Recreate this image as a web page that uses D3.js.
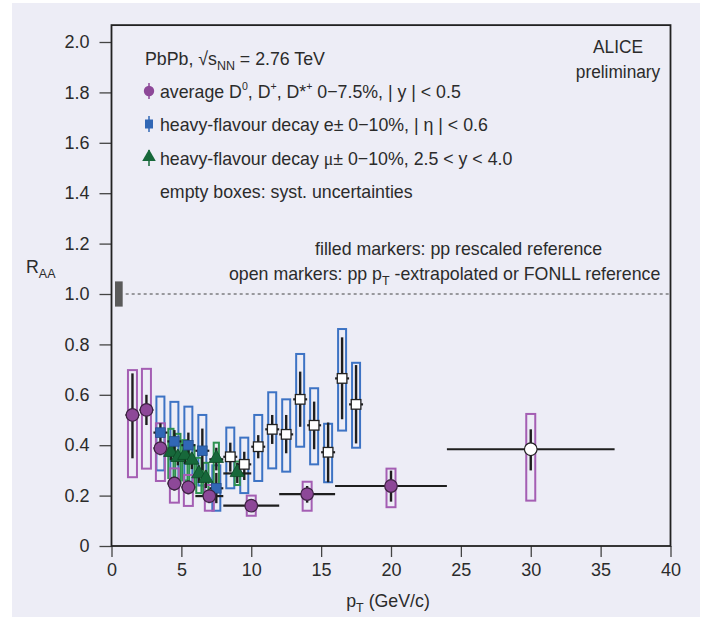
<!DOCTYPE html>
<html>
<head>
<meta charset="utf-8">
<script src="https://cdn.jsdelivr.net/npm/d3@7"></script>
<style>
  body { margin: 0; background: #fff; }
  svg text { font-family: "Liberation Sans Narrow", "Arial Narrow", "Liberation Sans", sans-serif; fill: #2b2b2b; }
</style>
</head>
<body>
<svg id="chart" width="709" height="626"></svg>
<script>
// D mesons (average D0, D+, D*+)
var dPt     = [1.5, 2.5, 3.5, 4.5, 5.5, 7, 10, 14, 20, 30];
var dPtLo   = [1, 2, 3, 4, 5, 6, 8, 12, 16, 24];
var dPtHi   = [2, 3, 4, 5, 6, 8, 12, 16, 24, 36];
var dRaa    = [0.52, 0.54, 0.388, 0.248, 0.233, 0.198, 0.16, 0.206, 0.238, 0.384];
var dStatLo = [0.348, 0.48, 0.36, 0.22, 0.205, 0.17, 0.14, 0.172, 0.176, 0.30];
var dStatHi = [0.685, 0.60, 0.415, 0.275, 0.26, 0.225, 0.18, 0.238, 0.299, 0.463];
var dSysLo  = [0.273, 0.307, 0.258, 0.172, 0.159, 0.14, 0.12, 0.14, 0.154, 0.18];
var dSysHi  = [0.698, 0.703, 0.487, 0.308, 0.282, 0.242, 0.20, 0.255, 0.307, 0.524];
var dOpen   = [0, 0, 0, 0, 0, 0, 0, 0, 0, 1];

// heavy-flavour decay electrons
var ePt     = [3.5, 4.5, 5.5, 6.5, 7.5, 8.5, 9.5, 10.5, 11.5, 12.5, 13.5, 14.5, 15.5, 16.5, 17.5];
var eRaa    = [0.45, 0.415, 0.40, 0.378, 0.229, 0.354, 0.324, 0.394, 0.463, 0.443, 0.582, 0.479, 0.372, 0.665, 0.562];
var eStatLo = [0.414, 0.37, 0.35, 0.30, 0.17, 0.295, 0.262, 0.348, 0.405, 0.368, 0.473, 0.384, 0.253, 0.503, 0.407];
var eStatHi = [0.487, 0.46, 0.45, 0.466, 0.29, 0.41, 0.374, 0.44, 0.52, 0.52, 0.692, 0.573, 0.49, 0.828, 0.718];
var eSysLo  = [0.30, 0.27, 0.255, 0.24, 0.14, 0.229, 0.21, 0.258, 0.308, 0.295, 0.394, 0.324, 0.253, 0.458, 0.39];
var eSysHi  = [0.593, 0.572, 0.553, 0.52, 0.32, 0.47, 0.43, 0.52, 0.61, 0.582, 0.762, 0.626, 0.485, 0.861, 0.727];
var eOpen   = [0, 0, 0, 0, 0, 1, 1, 1, 1, 1, 1, 1, 1, 1, 1];

// heavy-flavour decay muons
var mPt     = [4.25, 4.75, 5.25, 5.75, 6.25, 6.75, 7.5, 9];
var mPtLo   = [4, 4.5, 5, 5.5, 6, 6.5, 7, 8];
var mPtHi   = [4.5, 5, 5.5, 6, 6.5, 7, 8, 10];
var mRaa    = [0.368, 0.348, 0.356, 0.337, 0.283, 0.265, 0.344, 0.288];
var mStatLo = [0.34, 0.32, 0.325, 0.305, 0.25, 0.23, 0.30, 0.25];
var mStatHi = [0.40, 0.38, 0.39, 0.37, 0.32, 0.30, 0.39, 0.33];
var mSysLo  = [0.27, 0.255, 0.26, 0.245, 0.21, 0.20, 0.23, 0.242];
var mSysHi  = [0.465, 0.445, 0.42, 0.40, 0.35, 0.33, 0.41, 0.335];

var xTicks = [0, 5, 10, 15, 20, 25, 30, 35, 40];
var yTicks = [0, 0.2, 0.4, 0.6, 0.8, 1.0, 1.2, 1.4, 1.6, 1.8, 2.0];

var svg = d3.select('#chart');
var x = d3.scaleLinear().domain([0, 40]).range([111.5, 670.5]);
var y = d3.scaleLinear().domain([0, 2]).range([546, 42]);
var yTop = 2.067;

var purple = '#8d4898', purpleBox = '#a45eb3';
var blue = '#3167b5', blueBox = '#3d73c4';
var green = '#17683a', greenBox = '#2e9150';

svg.append('rect').attr('x', 12).attr('y', 3).attr('width', 688).attr('height', 614).attr('fill', '#ededf6');

// condensed look: squeeze text horizontally
function label(parent, px, py, size, anchor) {
  return parent.append('text')
    .attr('transform', 'translate(' + px + ',' + py + ') scale(0.96,1)')
    .attr('font-size', size)
    .attr('text-anchor', anchor || 'start');
}

// axes
var xAxis = d3.axisBottom(x).tickValues(xTicks).tickSize(11).tickPadding(6).tickFormat(d3.format('d'));
var yAxis = d3.axisLeft(y).tickValues(yTicks).tickSize(12).tickPadding(10)
  .tickFormat(d => d === 0 ? '0' : d3.format('.1f')(d));
var gx = svg.append('g').attr('transform', 'translate(0,' + y(0) + ')').call(xAxis);
var gy = svg.append('g').attr('transform', 'translate(' + x(0) + ',0)').call(yAxis);
[gx, gy].forEach(function (g) {
  g.select('.domain').remove();
  g.selectAll('.tick line').attr('stroke', '#444').attr('stroke-width', 1.3);
  g.selectAll('.tick text').attr('font-size', 18).attr('fill', '#2b2b2b');
});

// frame
svg.append('rect')
  .attr('x', x(0)).attr('y', y(yTop))
  .attr('width', x(40) - x(0)).attr('height', y(0) - y(yTop))
  .attr('fill', 'none').attr('stroke', '#222').attr('stroke-width', 1.8);

// normalisation uncertainty box and unity line
svg.append('rect')
  .attr('x', x(0.25)).attr('y', y(1.05))
  .attr('width', x(0.8) - x(0.25)).attr('height', y(0.95) - y(1.05))
  .attr('fill', '#5a5a5a');
svg.append('line')
  .attr('x1', x(0.8) + 3).attr('x2', x(40)).attr('y1', y(1)).attr('y2', y(1))
  .attr('stroke', '#444').attr('stroke-width', 1).attr('stroke-dasharray', '3,3');

function rows(pt, raa, sLo, sHi, yLo, yHi, open, lo, hi) {
  return pt.map(function (p, i) {
    return {
      pt: p, raa: raa[i], statLo: sLo[i], statHi: sHi[i], sysLo: yLo[i], sysHi: yHi[i],
      open: open ? open[i] : 0,
      lo: lo ? lo[i] : p - 0.5, hi: hi ? hi[i] : p + 0.5
    };
  });
}
var dRows = rows(dPt, dRaa, dStatLo, dStatHi, dSysLo, dSysHi, dOpen, dPtLo, dPtHi);
var eRows = rows(ePt, eRaa, eStatLo, eStatHi, eSysLo, eSysHi, eOpen);
var mRows = rows(mPt, mRaa, mStatLo, mStatHi, mSysLo, mSysHi, null, mPtLo, mPtHi);

var plot = svg.append('g');

function sysBoxes(data, color, halfPx) {
  plot.append('g').selectAll('rect').data(data).enter().append('rect')
    .attr('x', d => x(d.pt) - halfPx).attr('width', halfPx * 2)
    .attr('y', d => y(d.sysHi)).attr('height', d => y(d.sysLo) - y(d.sysHi))
    .attr('fill', 'none').attr('stroke', color).attr('stroke-width', 2);
}
sysBoxes(eRows, blueBox, 4);
sysBoxes(mRows, greenBox, 2.6);
sysBoxes(dRows, purpleBox, 4.5);

function errorBars(data) {
  var g = plot.append('g');
  g.selectAll('.stat').data(data).enter().append('line')
    .attr('x1', d => x(d.pt)).attr('x2', d => x(d.pt))
    .attr('y1', d => y(d.statLo)).attr('y2', d => y(d.statHi))
    .attr('stroke', '#1e1e1e').attr('stroke-width', 2.4);
  g.selectAll('.bin').data(data).enter().append('line')
    .attr('x1', d => x(d.lo)).attr('x2', d => x(d.hi))
    .attr('y1', d => y(d.raa)).attr('y2', d => y(d.raa))
    .attr('stroke', '#1e1e1e').attr('stroke-width', 2.2);
}
errorBars(eRows);
errorBars(mRows);
errorBars(dRows);

// markers
var tri = d3.symbol().type(d3.symbolTriangle).size(90);
plot.append('g').selectAll('path').data(mRows).enter().append('path')
  .attr('d', tri)
  .attr('transform', d => 'translate(' + x(d.pt) + ',' + (y(d.raa) - 1) + ')')
  .attr('fill', green).attr('stroke', '#0d4a26').attr('stroke-width', 0.8);

plot.append('g').selectAll('rect').data(eRows).enter().append('rect')
  .attr('x', d => x(d.pt) - 4.8).attr('y', d => y(d.raa) - 4.8)
  .attr('width', 9.6).attr('height', 9.6)
  .attr('fill', d => d.open ? '#fff' : blue)
  .attr('stroke', d => d.open ? '#222' : '#244f8c').attr('stroke-width', d => d.open ? 1.3 : 0.8);

plot.append('g').selectAll('circle').data(dRows).enter().append('circle')
  .attr('cx', d => x(d.pt)).attr('cy', d => y(d.raa)).attr('r', 6.3)
  .attr('fill', d => d.open ? '#fff' : purple)
  .attr('stroke', d => d.open ? '#222' : '#3d2242').attr('stroke-width', 1.2);

// legend
var leg = svg.append('g');
var t0 = label(leg, 145, 65, 18.5);
t0.append('tspan').text('PbPb, \u221As');
t0.append('tspan').attr('font-size', 13).attr('dy', 5).text('NN');
t0.append('tspan').attr('dy', -5).text(' = 2.76 TeV');

var legRows = [
  { y: 98, kind: 'circle' },
  { y: 131, kind: 'square' },
  { y: 165, kind: 'triangle' }
];
legRows.forEach(function (r) {
  var cy = r.y - 7;
  leg.append('line').attr('x1', 149).attr('x2', 149).attr('y1', cy - 8).attr('y2', cy + 8)
    .attr('stroke', r.kind === 'circle' ? purple : r.kind === 'square' ? blue : green).attr('stroke-width', 1.5);
  if (r.kind === 'circle') {
    leg.append('circle').attr('cx', 149).attr('cy', cy).attr('r', 5.2).attr('fill', purple);
  } else if (r.kind === 'square') {
    leg.append('rect').attr('x', 145).attr('y', cy - 4.5).attr('width', 8).attr('height', 9).attr('fill', blue);
  } else {
    leg.append('path').attr('d', d3.symbol().type(d3.symbolTriangle).size(80)())
      .attr('transform', 'translate(149,' + (cy - 1) + ')').attr('fill', green);
  }
});

var t1 = label(leg, 160, 98, 18.5);
t1.append('tspan').text('average D');
t1.append('tspan').attr('font-size', 11).attr('dy', -8).text('0');
t1.append('tspan').attr('dy', 8).text(', D');
t1.append('tspan').attr('font-size', 11).attr('dy', -8).text('+');
t1.append('tspan').attr('dy', 8).text(', D*');
t1.append('tspan').attr('font-size', 11).attr('dy', -8).text('+');
t1.append('tspan').attr('dy', 8).text(' 0\u22127.5%,  | y |  < 0.5');

label(leg, 160, 131, 18.5).text('heavy-flavour decay e\u00B1 0\u221210%,  | \u03B7 |  < 0.6');

var t3 = label(leg, 160, 165, 18.5);
t3.append('tspan').text('heavy-flavour decay ');
t3.append('tspan').attr('font-family', '"Liberation Serif", serif').text('\u03BC');
t3.append('tspan').text('\u00B1 0\u221210%, 2.5 < y < 4.0');

label(leg, 160, 198, 18.5).text('empty boxes: syst. uncertainties');

// experiment label
label(svg, 618, 53, 18, 'middle').text('ALICE');
label(svg, 618, 78, 18, 'middle').text('preliminary');

// reference notes
label(svg, 315, 255, 18.5).text('filled markers: pp rescaled reference');
var t5 = label(svg, 229, 280, 18.5);
t5.append('tspan').text('open markers: pp p');
t5.append('tspan').attr('font-size', 13).attr('dy', 5).text('T');
t5.append('tspan').attr('dy', -5).text(' -extrapolated or FONLL reference');

// axis titles
var ty = label(svg, 26, 273, 18.5);
ty.append('tspan').text('R');
ty.append('tspan').attr('font-size', 13).attr('dy', 5).text('AA');

var tx = label(svg, 388, 607, 18.5, 'middle');
tx.append('tspan').text('p');
tx.append('tspan').attr('font-size', 13).attr('dy', 5).text('T');
tx.append('tspan').attr('dy', -5).text(' (GeV/c)');
</script>
</body>
</html>
